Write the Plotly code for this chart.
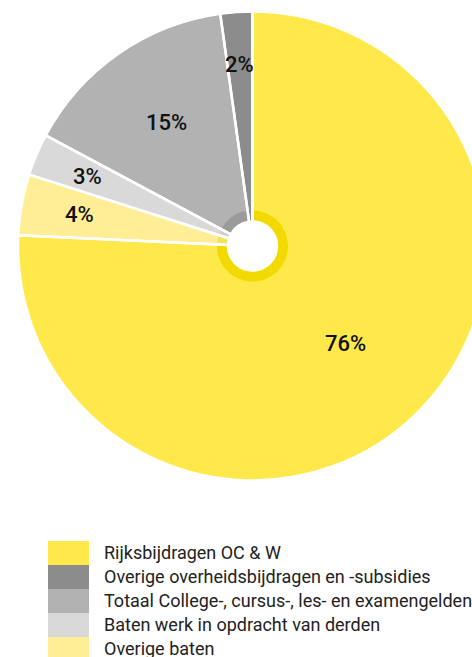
import math
import plotly.graph_objects as go

# ---- data ----
categories = [
    "Rijksbijdragen OC & W",
    "Overige overheidsbijdragen en -subsidies",
    "Totaal College-, cursus-, les- en examengelden",
    "Baten werk in opdracht van derden",
    "Overige baten",
]
values = [75.8, 2.2, 15.0, 2.9, 4.2]
pct_labels = ["76%", "2%", "15%", "3%", "4%"]

# ---- styles ----
colors = ["#FFE84A", "#8C8C8C", "#B2B2B2", "#D9D9D9", "#FFEE96"]
ring_colors = ["#F2D900", "#8A8A8A", "#9B9B9B", "#CFCFCF", "#F7E25A"]
label_radius = [0.574, 0.774, 0.644, 0.763, 0.75]

W, H = 500, 657
CX, CY, R = 252.5, 246.0, 234.5      # pie centre / radius in px
HOLE_R, RING_R = 24.5, 35.5

def px_dom_x(a, b):
    return [a / W, b / W]

def px_dom_y(top, bottom):
    return [1 - bottom / H, 1 - top / H]

main_dom = dict(x=px_dom_x(CX - R, CX + R), y=px_dom_y(CY - R, CY + R))
ring_dom = dict(x=px_dom_x(CX - RING_R, CX + RING_R), y=px_dom_y(CY - RING_R, CY + RING_R))

fig = go.Figure()
# main slices
fig.add_trace(go.Pie(
    labels=categories, values=values, sort=False,
    direction="counterclockwise", rotation=0,
    marker=dict(colors=colors, line=dict(color="white", width=0)),
    hole=HOLE_R / R, textinfo="none", hoverinfo="label+percent",
    showlegend=False, domain=main_dom,
))
# inner darker ring
fig.add_trace(go.Pie(
    labels=categories, values=values, sort=False,
    direction="counterclockwise", rotation=0,
    marker=dict(colors=ring_colors, line=dict(color="white", width=0)),
    hole=HOLE_R / RING_R, textinfo="none", hoverinfo="skip",
    showlegend=False, domain=ring_dom,
))
# white separators over everything
fig.add_trace(go.Pie(
    labels=categories, values=values, sort=False,
    direction="counterclockwise", rotation=0,
    marker=dict(colors=["rgba(0,0,0,0)"] * len(values), line=dict(color="white", width=2.5)),
    hole=HOLE_R / R, textinfo="none", hoverinfo="skip",
    showlegend=False, domain=main_dom,
))

# percentage labels, placed at each slice's mid angle
total = sum(values)
angle = 0.0
ann = []
for i, (v, t) in enumerate(zip(values, pct_labels)):
    span = 360.0 * v / total
    if i == 0:
        mid = span / 2.0
        angle = 0.0
    else:
        mid = angle - span / 2.0
        angle -= span
    a = math.radians(mid)
    r = label_radius[i] * R
    x = CX + r * math.sin(a)
    y = CY - r * math.cos(a)
    ann.append(dict(x=x / W, y=1 - y / H, xref="paper", yref="paper", text=t,
                    showarrow=False, xanchor="center", yanchor="middle",
                    font=dict(family="Roboto", size=22, color="#111111", weight=500)))

# custom legend
shapes = []
LEG_X0, LEG_X1, LEG_TOP, ROW = 48, 89, 541, 24
for i, (c, name) in enumerate(zip(colors, categories)):
    top = LEG_TOP + i * ROW
    shapes.append(dict(type="rect", xref="paper", yref="paper",
                       x0=LEG_X0 / W, x1=LEG_X1 / W,
                       y0=1 - (top + ROW) / H, y1=1 - top / H,
                       fillcolor=c, line=dict(width=0)))
    ann.append(dict(x=102 / W, y=1 - (top + ROW / 2 - 0.5) / H, xref="paper", yref="paper",
                    text=name, showarrow=False, xanchor="left", yanchor="middle",
                    font=dict(family="Roboto", size=18, color="#222222")))

fig.update_layout(
    width=W, height=H,
    margin=dict(l=0, r=0, t=0, b=0),
    paper_bgcolor="white", plot_bgcolor="white",
    annotations=ann, shapes=shapes,
    font=dict(family="Roboto"),
)

fig.write_html("out.html", config={"displayModeBar": False},
               post_script="document.body.style.margin='0';document.body.style.overflow='hidden';document.documentElement.style.overflow='hidden';")
